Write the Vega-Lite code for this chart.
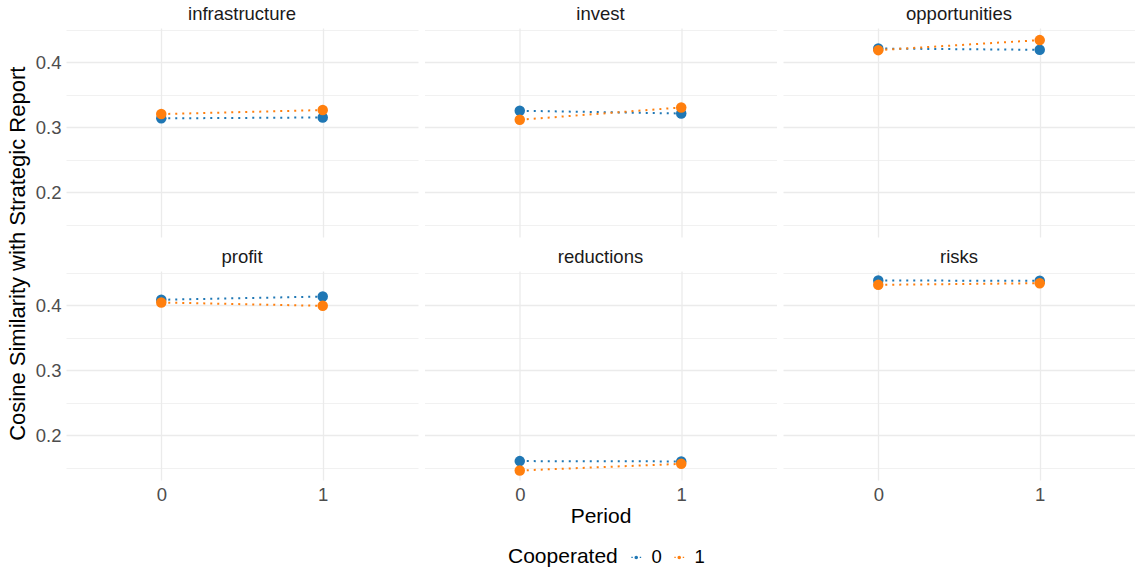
{
  "$schema": "https://vega.github.io/schema/vega-lite/v6.json",
  "padding": {"left": 7, "top": 4, "right": 0, "bottom": 0},
  "background": "white",
  "config": {
    "font": "Liberation Sans",
    "view": {"stroke": null},
    "axis": {
      "domain": false,
      "ticks": false,
      "gridColor": "#ebebeb",
      "labelFont": "Liberation Sans",
      "labelFontSize": 18.5,
      "labelColor": "#4d4d4d",
      "labelPadding": 5
    },
    "legend": {
      "orient": "none",
      "legendX": 442,
      "legendY": 520,
      "direction": "horizontal",
      "titleOrient": "left",
      "titleFont": "Liberation Sans",
      "titleFontSize": 21,
      "titleFontWeight": "normal",
      "titleColor": "#000000",
      "titlePadding": 9,
      "labelFont": "Liberation Sans",
      "labelFontSize": 18.5,
      "labelColor": "#000000",
      "labelOffset": 6,
      "columnPadding": 8,
      "symbolType": "M-0.7,-0.1h0.2v0.2h-0.2Z M0.5,-0.1h0.2v0.2h-0.2Z M-0.25,0a0.25,0.25 0 1,0 0.5,0a0.25,0.25 0 1,0 -0.5,0Z",
      "symbolSize": 196,
      "symbolStrokeWidth": 0
    }
  },
  "title": {
    "text": "Cosine Similarity with Strategic Report",
    "orient": "left",
    "anchor": "middle",
    "font": "Liberation Sans",
    "fontSize": 22,
    "fontWeight": "normal",
    "color": "#000000",
    "offset": 5,
    "dx": 32
  },
  "data": {
    "values": [
      {"topic": "infrastructure", "period": 0, "coop": "0", "value": 0.314},
      {"topic": "infrastructure", "period": 1, "coop": "0", "value": 0.3154},
      {"topic": "invest", "period": 0, "coop": "0", "value": 0.3257},
      {"topic": "invest", "period": 1, "coop": "0", "value": 0.3215},
      {"topic": "opportunities", "period": 0, "coop": "0", "value": 0.4215},
      {"topic": "opportunities", "period": 1, "coop": "0", "value": 0.4195},
      {"topic": "profit", "period": 0, "coop": "0", "value": 0.4088},
      {"topic": "profit", "period": 1, "coop": "0", "value": 0.4138},
      {"topic": "reductions", "period": 0, "coop": "0", "value": 0.1605},
      {"topic": "reductions", "period": 1, "coop": "0", "value": 0.160},
      {"topic": "risks", "period": 0, "coop": "0", "value": 0.4385},
      {"topic": "risks", "period": 1, "coop": "0", "value": 0.438},
      {"topic": "infrastructure", "period": 0, "coop": "1", "value": 0.3206},
      {"topic": "infrastructure", "period": 1, "coop": "1", "value": 0.3268},
      {"topic": "invest", "period": 0, "coop": "1", "value": 0.3118},
      {"topic": "invest", "period": 1, "coop": "1", "value": 0.3308},
      {"topic": "opportunities", "period": 0, "coop": "1", "value": 0.419},
      {"topic": "opportunities", "period": 1, "coop": "1", "value": 0.4345},
      {"topic": "profit", "period": 0, "coop": "1", "value": 0.4046},
      {"topic": "profit", "period": 1, "coop": "1", "value": 0.3995},
      {"topic": "reductions", "period": 0, "coop": "1", "value": 0.146},
      {"topic": "reductions", "period": 1, "coop": "1", "value": 0.1563},
      {"topic": "risks", "period": 0, "coop": "1", "value": 0.4318},
      {"topic": "risks", "period": 1, "coop": "1", "value": 0.4343}
    ]
  },
  "columns": 3,
  "facet": {
    "field": "topic",
    "type": "nominal",
    "header": {
      "title": "Period",
      "titleOrient": "bottom",
      "titleFont": "Liberation Sans",
      "titleFontSize": 21,
      "titleFontWeight": "normal",
      "titleColor": "#000000",
      "titlePadding": 2,
      "labelOrient": "top",
      "labelFont": "Liberation Sans",
      "labelFontSize": 18.5,
      "labelColor": "#1a1a1a",
      "labelPadding": 5
    }
  },
  "spacing": {"row": 10, "column": 6.5},
  "spec": {
    "width": 352,
    "height": 209,
    "encoding": {
      "x": {
        "field": "period",
        "type": "ordinal",
        "scale": {"type": "point", "padding": 0.59},
        "axis": {"title": null, "labelAngle": 0, "grid": true, "gridWidth": 1.3}
      },
      "y": {
        "field": "value",
        "type": "quantitative",
        "scale": {"domain": [0.1314, 0.4531], "nice": false, "zero": false},
        "axis": {
          "title": null,
          "values": [0.15, 0.2, 0.25, 0.3, 0.35, 0.4, 0.45],
          "labelExpr": "abs(datum.value * 10 - round(datum.value * 10)) < 0.01 ? format(datum.value, '.1f') : ''",
          "gridWidth": {"condition": {"test": "abs(datum.value * 10 - round(datum.value * 10)) < 0.01", "value": 1.3}, "value": 0.7}
        }
      },
      "color": {
        "field": "coop",
        "type": "nominal",
        "title": "Cooperated",
        "scale": {"domain": ["0", "1"], "range": ["#1f77b4", "#ff7f0e"]}
      }
    },
    "layer": [
      {"mark": {"type": "line", "strokeDash": [2, 5], "strokeWidth": 2}},
      {"mark": {"type": "point", "filled": true, "size": 110, "opacity": 1}}
    ]
  }
}
